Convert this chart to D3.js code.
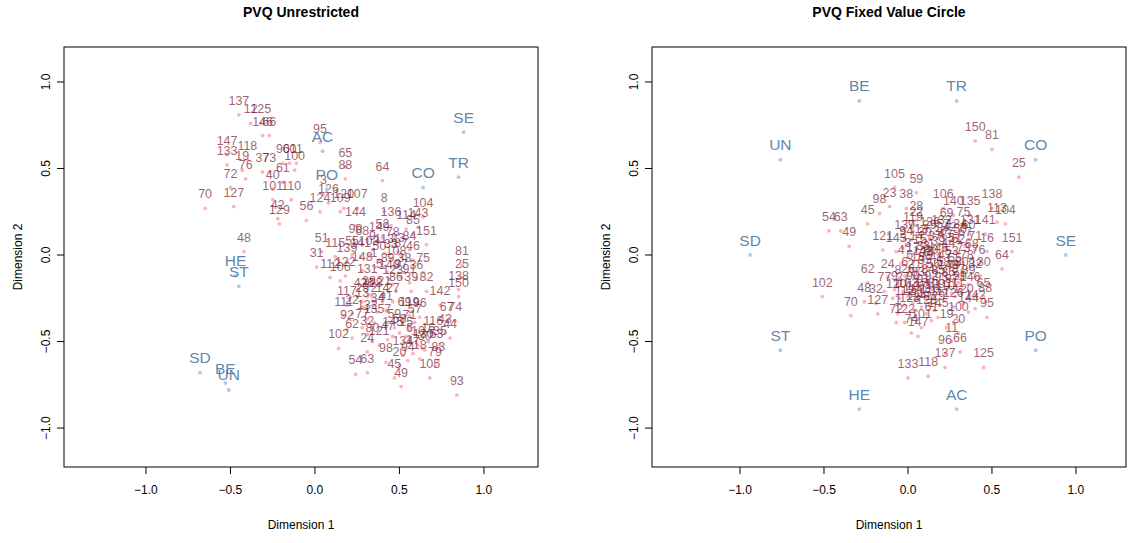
<!DOCTYPE html>
<html>
<head>
<meta charset="utf-8">
<script src="https://cdn.jsdelivr.net/npm/d3@7/dist/d3.min.js"></script>
<style>
    body { margin: 0; background: #fff; }
    svg { display: block; font-family: "Liberation Sans", Arial, Helvetica, sans-serif; }
</style>
</head>
<body>
<svg id="chart" width="1142" height="543"></svg>
<script>
/* === PVQ MDS plots: unrestricted vs fixed value circle === */

var TICKS = [-1.0, -0.5, 0.0, 0.5, 1.0];

var VALUE_NAMES = ['SE', 'TR', 'CO', 'AC', 'PO', 'HE', 'ST', 'SD', 'BE', 'UN'];
var LEFT_VAL_X = [0.88, 0.85, 0.64, 0.045, 0.07, -0.47, -0.45, -0.68, -0.53, -0.51];
var LEFT_VAL_Y = [0.71, 0.45, 0.39, 0.60, 0.38, -0.12, -0.18, -0.68, -0.74, -0.78];
var RIGHT_VAL_X = [0.94, 0.29, 0.76, 0.29, 0.76, -0.29, -0.76, -0.94, -0.29, -0.76];
var RIGHT_VAL_Y = [0.0, 0.89, 0.55, -0.89, -0.55, -0.89, -0.55, 0.0, 0.89, 0.55];

// item numbers, unrestricted solution
var LEFT_LABELS = [137, 12, 125, 146, 66, 95, 147, 133, 118, 19,
    76, 72, 37, 73, 90, 60, 11, 100, 61, 40,
    101, 110, 70, 127, 42, 129, 56, 65, 88, 3,
    126, 124, 120, 109, 107, 144, 64, 8, 104, 136,
    114, 143, 85, 151, 52, 78, 84, 51, 115, 31,
    106, 148, 131, 108, 89, 140, 75, 36, 81, 25,
    138, 150, 82, 86, 39, 28, 14, 117, 22, 34,
    29, 2, 26, 135, 77, 32, 62, 121, 102, 24,
    54, 63, 98, 45, 49, 105, 93, 83, 44, 116,
    145, 15, 53, 130, 119, 57, 67, 74, 134, 94,
    48, 99, 68, 9, 141, 103, 50, 33, 87, 46,
    139, 55, 113, 23, 1, 38, 91, 97, 5, 4,
    13, 21, 27, 41, 69, 96, 7, 59, 6, 10,
    16, 17, 18, 20, 30, 35, 43, 47, 58, 71,
    79, 80, 92, 111, 112, 122, 123, 128, 132, 142, 149];
var LEFT_X = [-0.45, -0.38, -0.32, -0.31, -0.27, 0.03, -0.52, -0.52, -0.40, -0.43,
    -0.41, -0.50, -0.31, -0.27, -0.19, -0.15, -0.11, -0.12, -0.19, -0.25,
    -0.25, -0.14, -0.65, -0.48, -0.22, -0.21, -0.05, 0.18, 0.18, 0.05,
    0.08, 0.03, 0.17, 0.15, 0.25, 0.24, 0.40, 0.41, 0.64, 0.45,
    0.54, 0.61, 0.58, 0.66, 0.40, 0.46, 0.56, 0.04, 0.12, 0.01,
    0.15, 0.28, 0.31, 0.48, 0.43, 0.44, 0.64, 0.60, 0.87, 0.87,
    0.85, 0.85, 0.66, 0.48, 0.57, 0.32, 0.40, 0.19, 0.22, 0.37,
    0.28, 0.35, 0.31, 0.35, 0.28, 0.31, 0.22, 0.38, 0.14, 0.31,
    0.24, 0.31, 0.42, 0.47, 0.51, 0.68, 0.84, 0.73, 0.80, 0.70,
    0.46, 0.54, 0.72, 0.64, 0.56, 0.59, 0.78, 0.83, 0.52, 0.55,
    -0.42, 0.24, 0.28, 0.34, 0.27, 0.32, 0.38, 0.45, 0.51, 0.58,
    0.19, 0.22, 0.41, 0.49, 0.35, 0.53, 0.56, 0.51, 0.38, 0.25,
    0.28, 0.41, 0.46, 0.42, 0.53, 0.62, 0.43, 0.47, 0.56, 0.61,
    0.67, 0.58, 0.62, 0.50, 0.65, 0.74, 0.77, 0.43, 0.50, 0.56,
    0.71, 0.34, 0.19, 0.17, 0.09, 0.18, 0.46, 0.34, 0.31, 0.74, 0.38];
var LEFT_Y = [0.81, 0.76, 0.76, 0.69, 0.69, 0.65, 0.58, 0.52, 0.55, 0.49,
    0.44, 0.39, 0.48, 0.48, 0.53, 0.53, 0.53, 0.49, 0.42, 0.38,
    0.32, 0.32, 0.27, 0.28, 0.21, 0.18, 0.20, 0.51, 0.44, 0.35,
    0.30, 0.25, 0.27, 0.25, 0.27, 0.17, 0.43, 0.25, 0.22, 0.17,
    0.15, 0.16, 0.12, 0.06, 0.10, 0.05, 0.03, 0.02, -0.01, -0.07,
    -0.15, -0.09, -0.16, -0.06, -0.10, -0.14, -0.10, -0.14, -0.06, -0.13,
    -0.20, -0.24, -0.21, -0.21, -0.21, -0.23, -0.27, -0.29, -0.34, -0.33,
    -0.27, -0.27, -0.24, -0.39, -0.42, -0.46, -0.48, -0.52, -0.54, -0.56,
    -0.69, -0.68, -0.62, -0.71, -0.76, -0.71, -0.81, -0.61, -0.48, -0.46,
    -0.47, -0.47, -0.54, -0.54, -0.35, -0.39, -0.38, -0.38, -0.58, -0.61,
    0.02, 0.07, 0.06, 0.03, -0.01, 0.00, -0.03, -0.02, -0.01, -0.03,
    -0.04, 0.00, 0.01, 0.02, -0.07, -0.10, -0.16, -0.13, -0.13, -0.24,
    -0.30, -0.23, -0.27, -0.32, -0.35, -0.36, -0.39, -0.42, -0.50, -0.52,
    -0.50, -0.57, -0.60, -0.64, -0.55, -0.52, -0.45, -0.49, -0.45, -0.43,
    -0.64, -0.50, -0.43, -0.35, -0.13, -0.12, -0.17, -0.24, -0.37, -0.29, 0.08];

// item numbers, fixed value circle solution
var RIGHT_LABELS = [150, 81, 25, 105, 59, 23, 38, 98, 45, 54,
    63, 49, 106, 140, 135, 138, 28, 22, 119, 69,
    75, 57, 113, 104, 141, 131, 16, 151, 64, 65,
    88, 95, 121, 94, 102, 62, 24, 48, 32, 70,
    127, 77, 12, 1, 72, 122, 74, 101, 147, 61,
    100, 19, 20, 11, 96, 66, 137, 125, 133, 118,
    126, 142, 144, 146, 143,
    7, 13, 29, 36, 42, 50, 60,
    2, 14, 30, 37, 43, 51, 67, 71,
    3, 15, 31, 39, 44, 52, 68,
    4, 17, 33, 40, 46, 53, 73, 76,
    5, 18, 34, 41, 47, 55, 78,
    6, 21, 35, 56, 58, 79, 80, 82,
    8, 26, 83, 84, 85, 86, 87, 89,
    9, 27, 90, 91, 92, 93, 97, 99,
    10, 103, 107, 108, 109, 110, 111,
    112, 114, 115, 116, 117, 120,
    123, 124, 128, 129,
    130, 132, 134, 136, 139, 145, 148, 149];
var RIGHT_X = [0.40, 0.50, 0.66, -0.08, 0.05, -0.11, -0.01, -0.17, -0.24, -0.47,
    -0.40, -0.35, 0.21, 0.27, 0.37, 0.50, 0.05, 0.05, 0.03, 0.23,
    0.33, 0.21, 0.53, 0.58, 0.46, 0.37, 0.47, 0.62, 0.56, 0.45,
    0.46, 0.47, -0.15, -0.01, -0.51, -0.24, -0.12, -0.26, -0.19, -0.34,
    -0.18, -0.14, -0.09, -0.06, -0.07, -0.02, 0.02, 0.08, 0.06, 0.14,
    0.30, 0.23, 0.30, 0.26, 0.22, 0.31, 0.22, 0.45, 0.00, 0.12,
    0.27, 0.40, 0.36, 0.37, -0.07,
    0.02, 0.08, 0.13, 0.19, 0.25, 0.31, 0.36,
    -0.03, 0.05, 0.10, 0.16, 0.22, 0.28, 0.34, 0.40,
    0.00, 0.07, 0.12, 0.18, 0.24, 0.30, 0.38,
    -0.04, 0.03, 0.09, 0.14, 0.20, 0.26, 0.33, 0.42,
    0.01, 0.06, 0.11, 0.17, 0.22, 0.28, 0.35,
    -0.02, 0.04, 0.10, 0.15, 0.21, 0.27, 0.32, 0.40,
    -0.06, 0.00, 0.06, 0.12, 0.18, 0.24, 0.30, 0.36,
    -0.08, -0.03, 0.03, 0.09, 0.14, 0.20, 0.26, 0.31,
    -0.05, 0.00, 0.05, 0.10, 0.16, 0.22, 0.28,
    -0.02, 0.03, 0.08, 0.13, 0.19, 0.33,
    0.01, 0.05, 0.11, 0.16,
    0.43, 0.20, 0.29, 0.13, -0.02, 0.18, 0.09, 0.24];
var RIGHT_Y = [0.66, 0.61, 0.45, 0.39, 0.36, 0.28, 0.27, 0.24, 0.18, 0.14,
    0.14, 0.05, 0.27, 0.23, 0.23, 0.27, 0.20, 0.17, 0.14, 0.16,
    0.17, 0.10, 0.19, 0.18, 0.12, 0.12, 0.02, 0.02, -0.08, -0.24,
    -0.27, -0.36, 0.03, 0.06, -0.24, -0.16, -0.13, -0.27, -0.28, -0.35,
    -0.34, -0.21, -0.25, -0.34, -0.39, -0.39, -0.45, -0.42, -0.47, -0.38,
    -0.38, -0.42, -0.45, -0.50, -0.57, -0.56, -0.65, -0.65, -0.71, -0.70,
    -0.30, -0.31, -0.33, -0.21, 0.02,
    0.09, 0.07, 0.09, 0.06, 0.08, 0.07, 0.09,
    0.04, 0.03, 0.05, 0.03, 0.04, 0.02, 0.05, 0.03,
    -0.01, 0.01, -0.02, 0.00, -0.01, 0.01, -0.02,
    -0.05, -0.04, -0.03, -0.05, -0.04, -0.06, -0.04, -0.05,
    -0.08, -0.09, -0.07, -0.09, -0.08, -0.10, -0.08,
    -0.12, -0.13, -0.11, -0.13, -0.12, -0.14, -0.12, -0.13,
    -0.17, -0.16, -0.18, -0.16, -0.17, -0.18, -0.16, -0.17,
    -0.20, -0.21, -0.20, -0.22, -0.20, -0.21, -0.22, -0.20,
    -0.25, -0.24, -0.26, -0.24, -0.25, -0.26, -0.24,
    -0.29, -0.28, -0.30, -0.28, -0.29, -0.28,
    -0.33, -0.32, -0.34, -0.32,
    -0.12, 0.12, 0.10, 0.11, 0.09, -0.36, -0.06, -0.14];

var ITEM_TEXT = 'rgb(115,25,50)';
var ITEM_DOT = '#ffb3c1';
var VALUE_TEXT = '#4a78a3';
var VALUE_DOT = '#a9cbee';

var svg = d3.select('#chart');
svg.append('rect').attr('width', 1142).attr('height', 543).attr('fill', '#fff');

function fmt(v) {
    return v.toFixed(1).replace('-', '\u2212');
}

function drawPanel(p) {
    var x = d3.scaleLinear().domain(p.xDomain).range([p.left, p.right]);
    var y = d3.scaleLinear().domain([-1.225, 1.202]).range([467, 47]);
    var g = svg.append('g');

    // Title
    g.append('text')
        .attr('x', (p.left + p.right) / 2).attr('y', 17)
        .attr('text-anchor', 'middle')
        .attr('font-size', '14px').attr('font-weight', 'bold')
        .text(p.title);

    // Box
    g.append('rect')
        .attr('x', p.left).attr('y', 47)
        .attr('width', p.right - p.left).attr('height', 420)
        .attr('fill', 'none').attr('stroke', '#000').attr('stroke-width', 1);

    // X ticks
    TICKS.forEach(function(t) {
        g.append('line').attr('x1', x(t)).attr('x2', x(t)).attr('y1', 467).attr('y2', 474)
            .attr('stroke', '#000');
        g.append('text').attr('x', x(t)).attr('y', 494)
            .attr('text-anchor', 'middle').attr('font-size', '12px')
            .text(fmt(t));
    });
    // Y ticks
    TICKS.forEach(function(t) {
        g.append('line').attr('x1', p.left).attr('x2', p.left - 7).attr('y1', y(t)).attr('y2', y(t))
            .attr('stroke', '#000');
        g.append('text')
            .attr('transform', 'translate(' + (p.left - 14) + ',' + y(t) + ') rotate(-90)')
            .attr('text-anchor', 'middle').attr('font-size', '12px')
            .text(fmt(t));
    });

    // Axis titles
    g.append('text').attr('x', (p.left + p.right) / 2).attr('y', 529)
        .attr('text-anchor', 'middle').attr('font-size', '12px')
        .text('Dimension 1');
    g.append('text')
        .attr('transform', 'translate(' + (p.left - 42) + ',257) rotate(-90)')
        .attr('text-anchor', 'middle').attr('font-size', '12px')
        .text('Dimension 2');

    // Items
    var items = p.labels.map(function(l, i) { return { label: l, x: p.xs[i], y: p.ys[i] }; });
    g.append('g').selectAll('circle').data(items).enter().append('circle')
        .attr('cx', function(d) { return x(d.x); })
        .attr('cy', function(d) { return y(d.y); })
        .attr('r', 1.9)
        .attr('fill', ITEM_DOT);
    g.append('g').selectAll('text').data(items).enter().append('text')
        .attr('x', function(d) { return x(d.x); })
        .attr('y', function(d) { return y(d.y) - 10; })
        .attr('text-anchor', 'middle')
        .attr('font-size', '12.5px')
        .attr('fill', ITEM_TEXT)
        .attr('fill-opacity', 0.7)
        .text(function(d) { return d.label; });

    // Values
    var vals = VALUE_NAMES.map(function(n, i) { return { name: n, x: p.valX[i], y: p.valY[i] }; });
    g.append('g').selectAll('circle').data(vals).enter().append('circle')
        .attr('cx', function(d) { return x(d.x); })
        .attr('cy', function(d) { return y(d.y); })
        .attr('r', 1.9)
        .attr('fill', VALUE_DOT);
    g.append('g').selectAll('text').data(vals).enter().append('text')
        .attr('x', function(d) { return x(d.x); })
        .attr('y', function(d) { return y(d.y) - 9.5; })
        .attr('text-anchor', 'middle')
        .attr('font-size', '15.5px')
        .attr('fill', VALUE_TEXT)
        .attr('fill-opacity', 0.9)
        .text(function(d) { return d.name; });
}

drawPanel({
    title: 'PVQ Unrestricted', left: 64, right: 538, xDomain: [-1.485, 1.32],
    labels: LEFT_LABELS, xs: LEFT_X, ys: LEFT_Y, valX: LEFT_VAL_X, valY: LEFT_VAL_Y
});
drawPanel({
    title: 'PVQ Fixed Value Circle', left: 652, right: 1126, xDomain: [-1.524, 1.298],
    labels: RIGHT_LABELS, xs: RIGHT_X, ys: RIGHT_Y, valX: RIGHT_VAL_X, valY: RIGHT_VAL_Y
});
</script>
</body>
</html>
